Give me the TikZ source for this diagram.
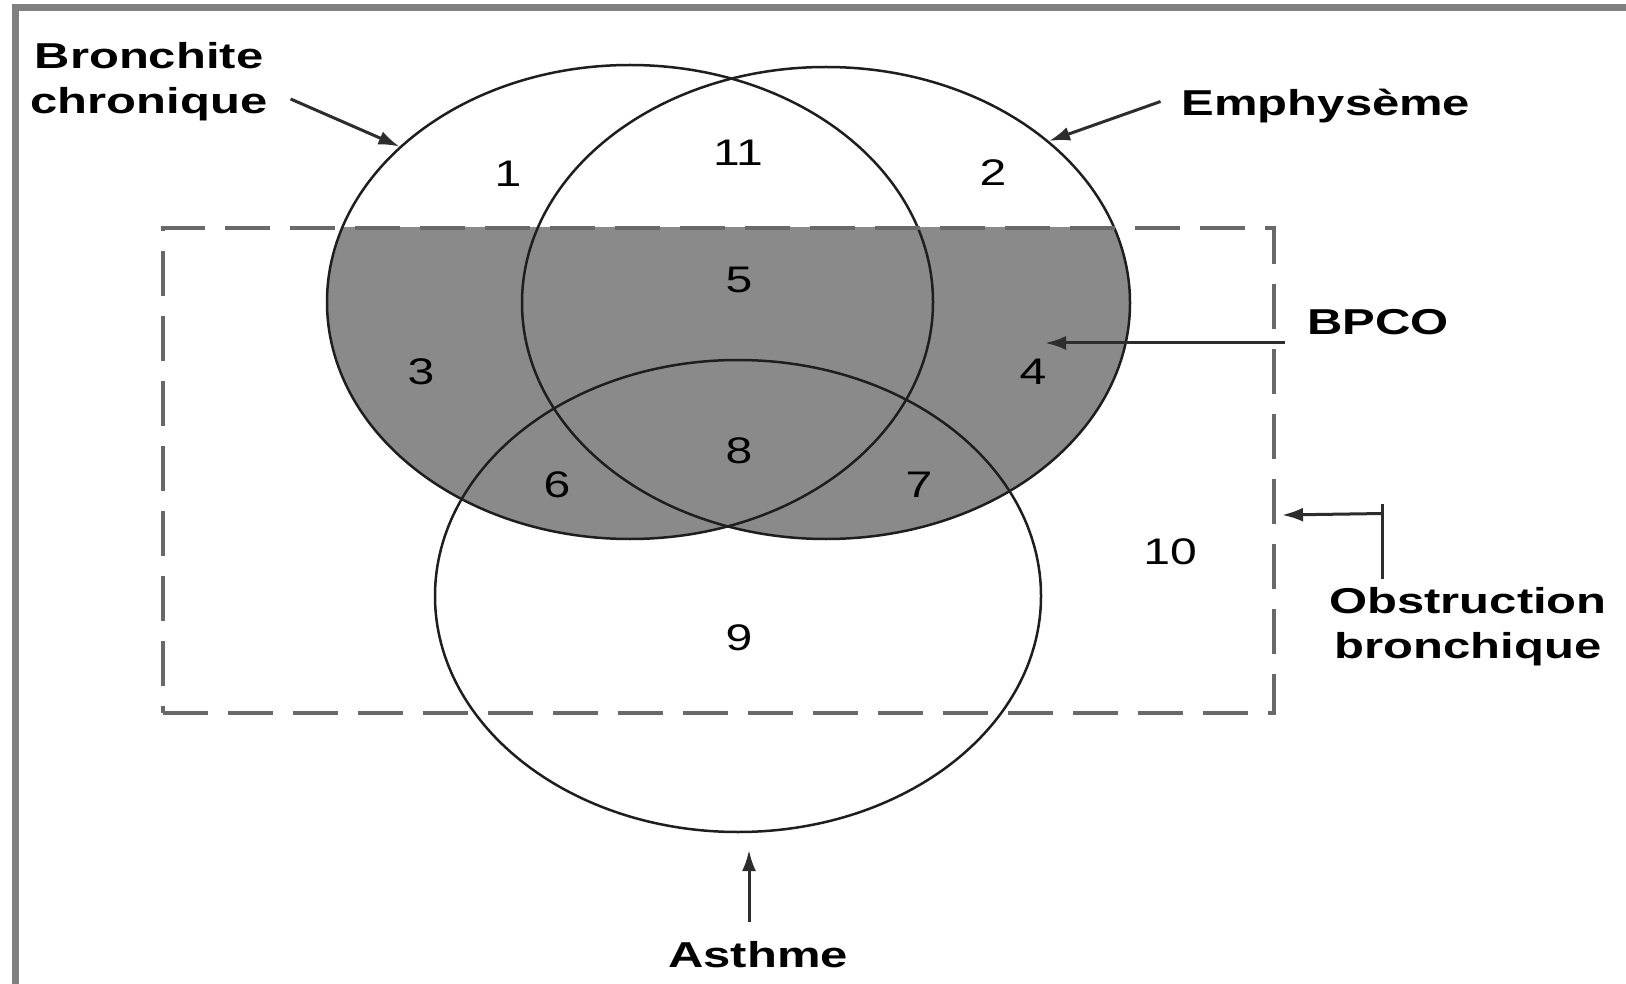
\documentclass[tikz,border=0pt]{standalone}
\usepackage{fontspec}
\setmainfont{Liberation Sans}
\usetikzlibrary{shapes.geometric,arrows.meta,calc}
\definecolor{fillgray}{RGB}{138,138,138}
\definecolor{framegray}{RGB}{128,128,128}
\definecolor{dashgray}{RGB}{105,105,105}
\definecolor{ink}{RGB}{30,30,30}
\definecolor{arrink}{RGB}{45,45,45}
\begin{document}
\begin{tikzpicture}[x=1pt,y=-1pt,
  lbl/.style={font=\bfseries\fontsize{36}{45}\selectfont, xscale=1.36, align=center, inner sep=0pt},
  num/.style={font=\fontsize{37}{44}\selectfont, xscale=1.3, inner sep=0pt},
  venn/.style={ellipse, draw=ink, line width=2.5pt, inner sep=0pt},
  obsbox/.style={draw=dashgray, line width=4pt, dash pattern=on 45pt off 20pt, inner sep=0pt},
  plainline/.style={draw=arrink, line width=3pt},
  arr/.style={draw=arrink, line width=3pt, -{Latex[length=21pt,width=14pt]}}
]
\useasboundingbox (0,0) rectangle (1626,984);
\clip (0,0) rectangle (1626,984);
\fill[white] (0,0) rectangle (1626,984);
\draw[framegray, line width=7pt] (15,8) rectangle (1660,990);

% grey fill: (bronchite U emphyseme) inside the obstruction box
\begin{scope}
  \clip (163,228) rectangle (1274,713);
  \fill[fillgray] (630,302) ellipse [x radius=303, y radius=237];
  \fill[fillgray] (826,303) ellipse [x radius=304, y radius=236];
\end{scope}

% sets
\node[venn, minimum width=606pt, minimum height=474pt] (bc) at (630,302) {};
\node[venn, minimum width=608pt, minimum height=472pt] (em) at (826,303) {};
\node[venn, minimum width=606pt, minimum height=472pt] (as) at (738,596) {};
\node[obsbox, minimum width=1111pt, minimum height=485pt] (ob) at (718.5,470.5) {};

% region numbers
\node[num] (n1) at (508,174) {1};
\node[num] (n11) at (738,153) {11};
\node[num] (n2) at (993,173) {2};
\node[num] (n5) at (739,280) {5};
\node[num] (n3) at (421,372) {3};
\node[num] (n4) at (1033,372) {4};
\node[num] (n8) at (739,451) {8};
\node[num] (n6) at (557,485) {6};
\node[num] (n7) at (919,485) {7};
\node[num] (n10) at (1170,552) {10};
\node[num] (n9) at (739,638) {9};

% labels
\node[lbl] (bclbl) at (149,82) {Bronchite\\chronique};
\node[lbl, anchor=base] (emlbl) at (1326,116) {Emphysème};
\node[lbl, anchor=base] (bpco) at (1378,335) {BPCO};
\node[lbl] (oblbl) at (1468,627) {Obstruction\\bronchique};
\node[lbl, anchor=base] (aslbl) at (758,967) {Asthme};

% connectors
\coordinate (bpcotip) at (1045,343);
\coordinate (obtip) at (1282,515);
\coordinate (astip) at (749,850);

\draw[arr] ($(bclbl.east)+(23,17)$) -- (bc.146.25);
\draw[arr] ($(emlbl.west)+(-21,-5)$) -- (em.36);
\draw[arr] ($(bpco.base west)+(-22,8)$) -- (bpcotip);
\draw[plainline] ($(oblbl.north)+(-86,-9)$) coordinate (obB) -- ++(0,-75) coordinate (obT);
\draw[arr] ($(obB)+(0,-65)$) -- (obtip);
\draw[arr] ($(aslbl.base)+(-9,-45)$) -- (astip);
\end{tikzpicture}
\end{document}
